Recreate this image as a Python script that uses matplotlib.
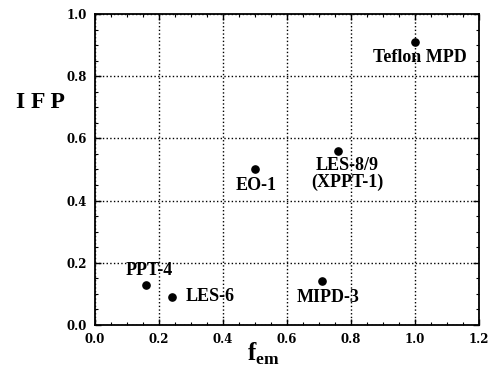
import matplotlib
matplotlib.use("Agg")
import matplotlib.pyplot as plt
from matplotlib.ticker import MultipleLocator

plt.rcParams['font.family'] = ['Liberation Serif', 'DejaVu Serif']
plt.rcParams['font.weight'] = 'bold'
plt.rcParams['mathtext.fontset'] = 'custom'
plt.rcParams['mathtext.bf'] = 'Liberation Serif:bold'
plt.rcParams['mathtext.rm'] = 'Liberation Serif:bold'

# thruster data: electromagnetic fraction vs IFP
names = ['Teflon MPD', 'LES-8/9\n(XPPT-1)', 'EO-1', 'PPT-4', 'LES-6', 'MIPD-3']
fem = [1.00, 0.76, 0.50, 0.16, 0.24, 0.71]
ifp = [0.91, 0.56, 0.50, 0.13, 0.09, 0.14]

# label offsets in pixels from each point, and alignment
offsets = [(5, -16), (9, -23), (1, -16), (3, 14), (14, 0), (6, -16)]
aligns = ['center', 'center', 'center', 'center', 'left', 'center']

fig = plt.figure(figsize=(4.92, 3.68), dpi=100)
ax = fig.add_axes([0.193, 0.117, 0.781, 0.845])

ax.plot(fem, ifp, 'o', color='black', markersize=5.2, zorder=3)

px = 72.0 / fig.dpi
for n, x, y, (dx, dy), ha in zip(names, fem, ifp, offsets, aligns):
    ax.annotate(n, (x, y), xytext=(dx * px, dy * px), textcoords='offset points',
                ha=ha, va='center', multialignment='center',
                fontsize=13, fontweight='bold', linespacing=0.95)

ax.set_xlim(0, 1.2)
ax.set_ylim(0, 1.0)
ax.xaxis.set_major_locator(MultipleLocator(0.2))
ax.yaxis.set_major_locator(MultipleLocator(0.2))
ax.xaxis.set_minor_locator(MultipleLocator(0.05))
ax.yaxis.set_minor_locator(MultipleLocator(0.05))
ax.tick_params(which='both', direction='in', top=True, right=True, color='black')
ax.tick_params(which='major', length=4, width=1, pad=6)
ax.tick_params(which='minor', length=2.5, width=0.8)
for s in ax.spines.values():
    s.set_linewidth(1.3)

tick_font = dict(family='DejaVu Serif', fontweight='bold', fontsize=8.5)
ax.set_xticklabels(['%.1f' % v for v in ax.get_xticks()], **tick_font)
ax.set_yticklabels(['%.1f' % v for v in ax.get_yticks()], **tick_font)

ax.grid(True, which='major', linestyle=':', color='black', linewidth=1.0)

ax.text(-0.078, 0.714, 'I F P', transform=ax.transAxes, ha='right', va='center',
        fontsize=17, fontweight='bold')
ax.text(0.4375, -0.116, r'$\mathbf{f}_{\mathbf{em}}$', transform=ax.transAxes,
        ha='center', va='baseline', fontsize=18)

fig.savefig('out.png', dpi=100)
